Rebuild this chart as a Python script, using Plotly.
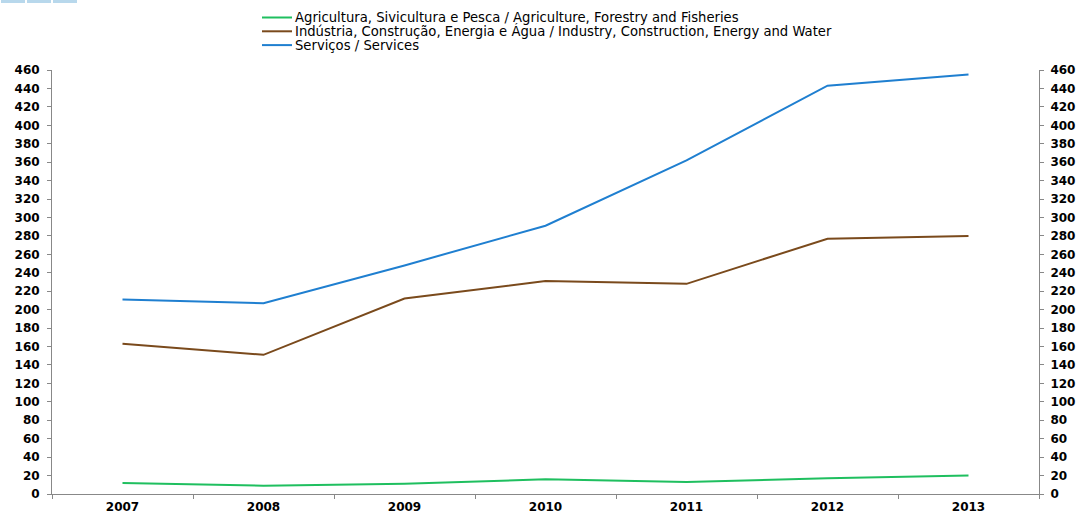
import plotly.graph_objects as go

years = ["2007", "2008", "2009", "2010", "2011", "2012", "2013"]
agri = [12, 9, 11, 16, 13, 17, 20]
industry = [163, 151, 212, 231, 228, 277, 280]
services = [211, 207, 248, 291, 362, 443, 455]
names = [
    "Agricultura, Sivicultura e Pesca / Agriculture, Forestry and Fisheries",
    "Indústria, Construção, Energia e Água / Industry, Construction, Energy and Water",
    "Serviços / Services",
]
colors = ["#1fbf5f", "#7a4a1c", "#1f7fd0"]
yticks = list(range(0, 461, 20))

L, R, T, B = 52, 1039, 70, 494
W, H = R - L, B - T


def px(x):
    return (x - L) / W


def py(y):
    return (B - y) / H


fig = go.Figure()
for vals, name, col in zip([agri, industry, services], names, colors):
    fig.add_trace(go.Scatter(x=years, y=vals, name=name, mode="lines",
                             line=dict(color=col, width=2), showlegend=False))
fig.add_trace(go.Scatter(x=years, y=services, yaxis="y2", mode="lines",
                         line=dict(width=0), showlegend=False, hoverinfo="skip"))

tf = dict(family="DejaVu Sans", size=12, color="#000", weight="bold")
common = dict(showgrid=False, zeroline=False, showline=True, linecolor="#888",
              linewidth=1, ticks="outside", ticklen=4, tickcolor="#888",
              tickfont=tf, automargin=False)
fig.update_layout(
    width=1080, height=515,
    margin=dict(l=L, r=1080 - R, t=T, b=515 - B, autoexpand=False),
    paper_bgcolor="white", plot_bgcolor="white",
    showlegend=False,
    xaxis=dict(type="category", range=[-0.5, 6.5], tickson="boundaries",
               ticklabelstandoff=2, **common),
    yaxis=dict(range=[0, 460], tickvals=yticks, ticklabelstandoff=5, **common),
    yaxis2=dict(range=[0, 460], tickvals=yticks, overlaying="y", side="right",
                ticklabelstandoff=4, **common),
)

# legend drawn manually
for i, (name, col) in enumerate(zip(names, colors)):
    yy = 17.5 + i * 13.8
    fig.add_shape(type="line", xref="paper", yref="paper",
                  x0=px(262), x1=px(292), y0=py(yy), y1=py(yy),
                  line=dict(color=col, width=2))
    fig.add_annotation(xref="paper", yref="paper", x=px(293), y=py(yy),
                       xanchor="left", yanchor="middle", showarrow=False,
                       text=name,
                       font=dict(family="DejaVu Sans", size=13.2, color="#000"))

# small cropped header blocks at top-left
for x0 in [1, 27, 53]:
    fig.add_shape(type="rect", xref="paper", yref="paper",
                  x0=px(x0), x1=px(x0 + 24), y0=py(3), y1=py(-2),
                  fillcolor="#b8d8ec", line=dict(width=0))

fig.write_html("out.html", config={"displayModeBar": False},
               post_script="document.body.style.margin='0';document.body.style.overflow='hidden';")
